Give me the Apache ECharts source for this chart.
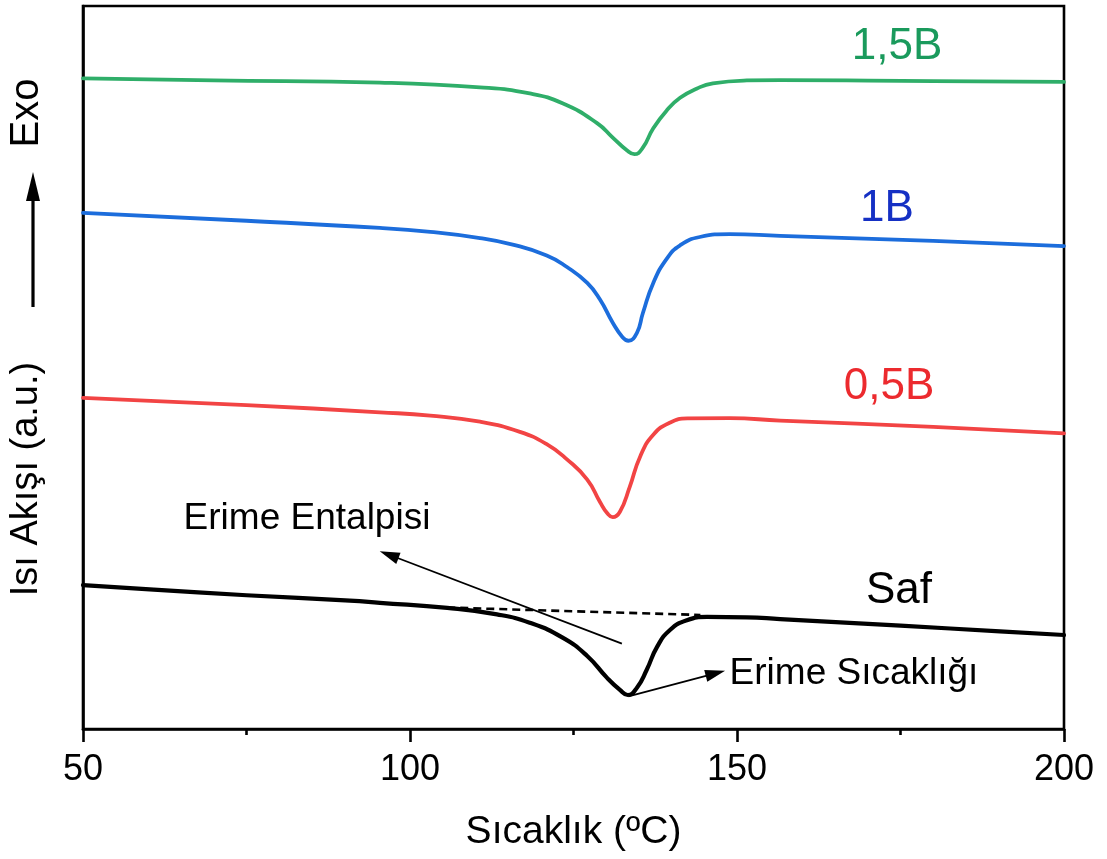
<!DOCTYPE html>
<html>
<head>
<meta charset="utf-8">
<script src="https://cdn.jsdelivr.net/npm/echarts@6/dist/echarts.min.js"></script>
<style>
  html, body { margin: 0; padding: 0; background: #ffffff; }
  #chart { width: 1107px; height: 859px; }
</style>
</head>
<body>
<div id="chart"></div>
<script>
// DSC melting curves, heat flow in arbitrary units (exo up)
const xTicks = [50, 100, 150, 200];

const tempB15 = [50, 70, 95.4, 110.7, 118.3, 123.4, 128.6, 131.0, 133.2, 134.3, 135.6, 137.2, 139.3, 141.3, 143.9, 146.3, 151.5, 156.6, 180, 200];
const flowB15 = [90.0, 89.7, 89.4, 88.75, 87.9, 86.5, 83.8, 81.8, 80.0, 79.5, 80.4, 83.1, 85.6, 87.3, 88.6, 89.3, 89.7, 89.75, 89.6, 89.5];

const tempB1 = [50, 75, 95.4, 103.1, 110.7, 115.7, 120.9, 124.0, 127.1, 129.05, 131.0, 132.5, 133.4, 134.7, 135.6, 137.2, 139.3, 141.3, 144.3, 148.9, 156.6, 180, 200];
const flowB1 = [71.4, 70.3, 69.3, 68.75, 67.9, 67.0, 65.5, 63.9, 61.7, 59.4, 56.2, 54.2, 53.7, 54.8, 57.5, 61.7, 65.1, 66.9, 68.05, 68.45, 68.2, 67.5, 66.8];

const tempB05 = [50, 75, 95.4, 103.1, 110.7, 116.8, 120.9, 124.0, 127.1, 129.05, 130.2, 131.0, 132.1, 133.6, 135.2, 137.2, 139.8, 142.4, 148.9, 156.6, 180, 200];
const flowB05 = [45.8, 44.8, 43.8, 43.35, 42.5, 41.1, 39.4, 37.3, 34.5, 31.4, 29.8, 29.3, 30.05, 33.5, 37.7, 40.7, 42.4, 42.95, 43.0, 42.65, 41.8, 40.9];

const tempSaf = [50, 60.2, 75, 90.8, 95.4, 105.7, 113.3, 118.3, 123.4, 127.1, 130.1, 132.1, 133.3, 134.7, 136.2, 137.8, 139.75, 142.35, 145.4, 151.5, 156.6, 175, 190.2, 200];
const flowSaf = [19.9, 19.3, 18.5, 17.75, 17.45, 16.75, 15.85, 14.7, 12.6, 10.1, 7.1, 5.4, 4.7, 5.7, 8.2, 11.4, 13.7, 15.05, 15.5, 15.45, 15.2, 14.3, 13.5, 13.0];

// baseline used for the enthalpy integration of the pure sample
const baselineT = [105.7, 144.4];
const baselineY = [16.8, 15.77];

// annotation arrows: [tail, head] in (°C, a.u.)
const enthalpyArrow = [[132.4, 11.8], [96.8, 24.1]];
const meltTempArrow = [[133.4, 4.5], [146.7, 7.7]];

const seriesNames = ['1,5B', '1B', '0,5B', 'Saf'];
const lineColors = ['#2fae69', '#1c6ddc', '#f24444', '#000000'];
const labelColors = ['#1a9a5c', '#1530c4', '#ec2a2e', '#000000'];

const FONT = '"Liberation Sans", Arial, sans-serif';

function pairs(xs, ys) { return xs.map((x, i) => [x, ys[i]]); }

const curves = [
  pairs(tempB15, flowB15),
  pairs(tempB1, flowB1),
  pairs(tempB05, flowB05),
  pairs(tempSaf, flowSaf)
];

const chart = echarts.init(document.getElementById('chart'), null, { renderer: 'canvas' });

const series = curves.map((d, i) => ({
  name: seriesNames[i],
  type: 'line',
  data: d,
  smooth: 0.5,
  showSymbol: false,
  symbol: 'none',
  lineStyle: { color: lineColors[i], width: i === 3 ? 4.2 : 3.8, join: 'round', cap: 'round' },
  z: 3
}));

series.push({
  name: 'baseline',
  type: 'line',
  data: pairs(baselineT, baselineY),
  symbol: 'none',
  lineStyle: { color: '#000', width: 2.6, type: [8, 5] },
  z: 2
});

series.push({
  name: 'arrows',
  type: 'line',
  data: [],
  markLine: {
    silent: true,
    animation: false,
    symbol: ['none', 'triangle'],
    symbolSize: [12, 20],
    label: { show: false },
    lineStyle: { color: '#000', width: 1.8, type: 'solid' },
    data: [
      [{ coord: enthalpyArrow[0] }, { coord: enthalpyArrow[1] }],
      [{ coord: meltTempArrow[0] }, { coord: meltTempArrow[1] }]
    ]
  }
});

const text = (str, x, y, size, color, extra) => Object.assign({
  type: 'text', x: x, y: y,
  style: { text: str, font: size + 'px ' + FONT, fill: color, textAlign: 'center', textVerticalAlign: 'middle' }
}, extra || {});

chart.setOption({
  animation: false,
  backgroundColor: '#ffffff',
  grid: { left: 83, right: 43, top: 6, bottom: 130, show: true, borderColor: '#000', borderWidth: 2.6, backgroundColor: 'transparent' },
  xAxis: {
    type: 'value', min: xTicks[0], max: xTicks[xTicks.length - 1], interval: 50,
    name: 'Sıcaklık (ºC)', nameLocation: 'middle', nameGap: 84,
    nameTextStyle: { fontFamily: FONT, fontSize: 39, color: '#000' },
    axisLine: { lineStyle: { color: '#000', width: 2.6 } },
    axisTick: { show: true, length: 13, lineStyle: { color: '#000', width: 2.6 } },
    minorTick: { show: true, splitNumber: 2, length: 6, lineStyle: { color: '#000', width: 2.6 } },
    axisLabel: { fontFamily: FONT, fontSize: 36, color: '#000', margin: 23 },
    splitLine: { show: false }
  },
  yAxis: {
    type: 'value', min: 0, max: 100,
    axisLine: { show: true, lineStyle: { color: '#000', width: 2.6 } },
    axisTick: { show: false }, axisLabel: { show: false }, splitLine: { show: false }
  },
  series: series,
  graphic: [
    text('Exo', 27, 113, 40, '#000', { rotation: Math.PI / 2 }),
    { type: 'line', shape: { x1: 33, y1: 307, x2: 33, y2: 196 }, style: { stroke: '#000', lineWidth: 3.2 } },
    { type: 'polygon', shape: { points: [[33, 172], [26, 201], [40, 201]] }, style: { fill: '#000' } },
    text('Isı Akışı (a.u.)', 27, 479, 38, '#000', { rotation: Math.PI / 2 }),
    text(seriesNames[0], 897, 47, 44, labelColors[0]),
    text(seriesNames[1], 887, 209, 44, labelColors[1]),
    text(seriesNames[2], 889, 387, 44, labelColors[2]),
    text(seriesNames[3], 899, 591, 44, labelColors[3]),
    text('Erime Entalpisi', 307, 519, 37, '#000'),
    text('Erime Sıcaklığı', 854, 674, 37, '#000')
  ]
});
</script>
</body>
</html>
